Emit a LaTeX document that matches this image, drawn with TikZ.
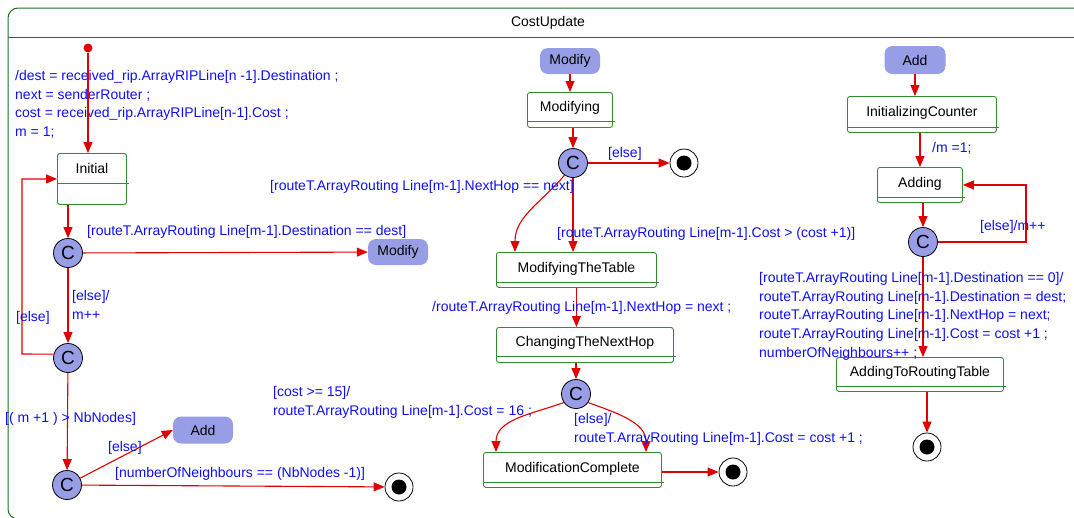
\documentclass[tikz,border=0pt]{standalone}
\usepackage{fontspec}
\setmainfont{Liberation Sans}
\usetikzlibrary{arrows.meta,calc}

\definecolor{framegreen}{RGB}{30,115,30}
\definecolor{stategreen}{RGB}{50,140,50}
\definecolor{transred}{RGB}{225,0,0}
\definecolor{guardblue}{RGB}{15,15,245}
\definecolor{pseudofill}{RGB}{152,158,230}

\tikzset{
  trans/.style={draw=transred, line width=1.1pt, -{Triangle[length=11pt,width=9pt]}},
  stateshape/.style={draw=stategreen, line width=0.9pt, rounded corners=2.5pt, inner sep=0pt,
    font=\fontsize{14}{16}\selectfont, text height=10.5pt},
  choice/.style={circle, draw=black, line width=0.8pt, fill=pseudofill, minimum size=29pt,
    inner sep=0pt, font=\fontsize{19}{19}\selectfont},
  entrypt/.style={fill=pseudofill, rounded corners=8pt, inner sep=0pt, font=\fontsize{14}{16}\selectfont},
  finalst/.style={circle, draw=black, line width=0.8pt, fill=white, minimum size=28pt, inner sep=0pt,
    path picture={\fill[black] (path picture bounding box.center) circle (7.5pt);}},
  guard/.style={text=guardblue, font=\fontsize{14}{18.8}\selectfont, align=left, inner sep=0pt, anchor=north west},
}

% state box with a thin bottom compartment: name, left, top, width, height, bottom part, text
\newcommand\umlstate[7]{%
  \node[stateshape, anchor=north west, minimum width=#4pt, minimum height=#5pt,
        text depth=#6pt+0.5pt] (#1) at (#2,#3) {#7};
  \draw[stategreen, line width=0.9pt] ($(#1.south west)+(0,-#6)$) -- ($(#1.south east)+(2.5,-#6)$);
}

\begin{document}
\begin{tikzpicture}[x=1pt, y=-1pt]
\useasboundingbox (0,0) rectangle (1074,517);

% enclosing composite state
\begin{scope}
  \clip (0,0) rectangle (1074,517);
  \draw[framegreen, line width=1pt, rounded corners=10pt] (8,8) rectangle (1090,519);
  \draw[framegreen, line width=1pt] (8,37) -- (1074,37);
\end{scope}
\node[font=\fontsize{14}{16}\selectfont] (title) at (548,22.5) {CostUpdate};

% ---------- left column ----------
\node[circle, fill=transred, inner sep=0pt, minimum size=9pt] (init) at (88,48) {};
\umlstate{initial}{57}{153}{69}{51}{21}{Initial}
\node[guard] (initact) at (15,70) {/dest = received\_rip.ArrayRIPLine[n -1].Destination ;\\
next = senderRouter ;\\cost = received\_rip.ArrayRIPLine[n-1].Cost ;\\m = 1;};
\draw[trans] (init) -- (init |- initial.north);

\node[choice] (c1) at (68,253) {C};
\node[entrypt, minimum width=60pt, minimum height=26pt] (modA) at (398,252) {Modify};
\node[choice] (c2) at (68,358) {C};
\node[choice] (c3) at (67,485) {C};
\node[entrypt, minimum width=60pt, minimum height=27pt] (addA) at (203,430) {Add};
\node[finalst] (finA) at (399,487) {};

\draw[trans] (c1 |- initial.south) -- (c1);
\draw[trans] (c1) -- (modA);
\node[guard] (g1) at (87,225) {[routeT.ArrayRouting Line[m-1].Destination == dest]};
\draw[trans] (c1) -- (c2);
\node[guard] (g2) at (72,290) {[else]/\\m++};
\coordinate (loopL) at (22,354);
\draw[trans] (c2.165) -- (loopL) |- (initial.west);
\node[guard] (g3) at (16,311) {[else]};
\draw[trans] (c2) -- (c3);
\node[guard] (g4) at (5,412) {[( m +1 ) > NbNodes]};
\draw[trans] (c3) -- (addA.west);
\node[guard] (g5) at (108,441) {[else]};
\draw[trans] (c3) -- (finA);
\node[guard] (g6) at (115,467) {[numberOfNeighbours == (NbNodes -1)]};

% ---------- middle column ----------
\node[entrypt, minimum width=60pt, minimum height=26pt] (modB) at (570,61) {Modify};
\umlstate{modifying}{527}{92}{85}{35}{6}{Modifying}
\draw[trans] (modB) -- (modB |- modifying.north);
\node[choice] (c4) at (573,163) {C};
\draw[trans] (c4 |- modifying.south) -- (c4);
\node[finalst] (finB) at (684,163) {};
\draw[trans] (c4) -- (finB);
\node[guard] (g7) at (608,147) {[else]};

\umlstate{mtt}{496}{252}{160}{35}{5}{ModifyingTheTable}
\draw[trans] (c4) -- (c4 |- mtt.north);
\node[guard] (g9) at (557,227) {[routeT.ArrayRouting Line[m-1].Cost > (cost +1)]};
\draw[trans] (c4.235) to[out=230, in=90] ($(mtt.north west)+(19,0)$);
\node[guard] (g8) at (270,180) {[routeT.ArrayRouting Line[m-1].NextHop == next]};

\umlstate{ctnh}{496}{327}{177}{35}{6}{ChangingTheNextHop}
\draw[trans] (mtt.south) -- (mtt.south |- ctnh.north);
\node[guard] (g10) at (432,301) {/routeT.ArrayRouting Line[m-1].NextHop = next ;};

\node[choice] (c5) at (576,394) {C};
\draw[trans] (c5 |- ctnh.south) -- (c5);
\umlstate{mc}{483}{452}{178}{35}{5}{ModificationComplete}
\draw[trans] (c5.215) to[out=200, in=90] ($(mc.north west)+(13,0)$);
\node[guard] (g11) at (273,386) {[cost >= 15]/\\routeT.ArrayRouting Line[m-1].Cost = 16 ;};
\draw[trans] (c5.-35) to[out=-20, in=90] ($(mc.north west)+(163,0)$);
\node[guard] (g12) at (574,413) {[else]/\\routeT.ArrayRouting Line[m-1].Cost = cost +1 ;};
\node[finalst] (finC) at (733,472) {};
\draw[trans] (mc.east |- finC) -- (finC);

% ---------- right column ----------
\node[entrypt, minimum width=61pt, minimum height=28pt] (addB) at (915,60) {Add};
\umlstate{ic}{847}{96}{149}{36}{5}{InitializingCounter}
\draw[trans] (addB) -- (addB |- ic.north);
\umlstate{adding}{877}{167}{85}{35}{5}{Adding}
\draw[trans] (ic.south -| adding.north) -- (adding.north);
\node[guard] (g13) at (932,142) {/m =1;};
\node[choice] (c6) at (923,242) {C};
\draw[trans] (c6 |- adding.south) -- (c6);
\coordinate (loopR) at (1026,210);
\draw[trans] (c6.east) -| (loopR) |- (adding.east);
\node[guard] (g14) at (980,220) {[else]/m++};

\umlstate{atrt}{836}{357}{167}{34}{5}{AddingToRoutingTable}
\draw[trans] (c6) -- (c6 |- atrt.north);
\node[guard] (g15) at (759,272) {[routeT.ArrayRouting Line[m-1].Destination == 0]/\\
routeT.ArrayRouting Line[m-1].Destination = dest;\\
routeT.ArrayRouting Line[m-1].NextHop = next;\\
routeT.ArrayRouting Line[m-1].Cost = cost +1 ;\\
numberOfNeighbours++ ;};
\node[finalst] (finD) at (927,447) {};
\draw[trans] (finD |- atrt.south) -- (finD);
\end{tikzpicture}
\end{document}
